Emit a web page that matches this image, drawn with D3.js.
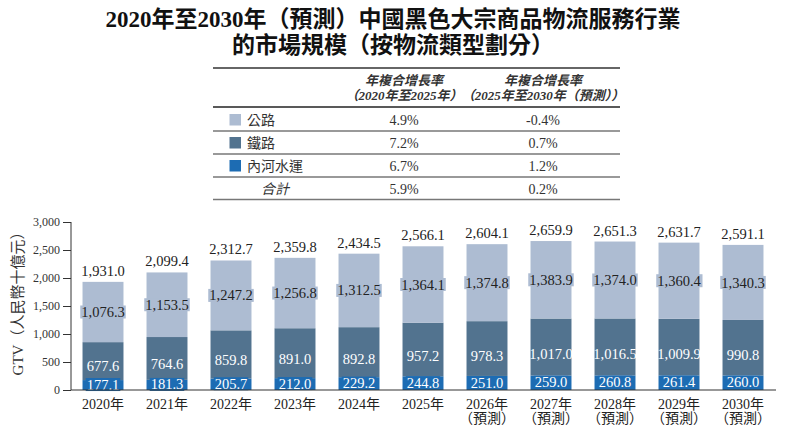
<!DOCTYPE html>
<html><head><meta charset="utf-8">
<script src="https://cdn.jsdelivr.net/npm/d3@7"></script>
<style>
html,body{margin:0;padding:0;background:#fff;}
svg{display:block;}
</style></head>
<body>
<svg id="chart" width="786" height="429"></svg>
<script>
// ---- data ----
const years = ["2020年","2021年","2022年","2023年","2024年","2025年","2026年","2027年","2028年","2029年","2030年"];
const forecast = [false,false,false,false,false,false,true,true,true,true,true];
const water = [177.1,181.3,205.7,212.0,229.2,244.8,251.0,259.0,260.8,261.4,260.0];
const rail = [677.6,764.6,859.8,891.0,892.8,957.2,978.3,1017.0,1016.5,1009.9,990.8];
const road = [1076.3,1153.5,1247.2,1256.8,1312.5,1364.1,1374.8,1383.9,1374.0,1360.4,1340.3];
const totals = [1931.0,2099.4,2312.7,2359.8,2434.5,2566.1,2604.1,2659.9,2651.3,2631.7,2591.1];
const yTicks = [0,500,1000,1500,2000,2500,3000];
const seriesNames = ["公路","鐵路","內河水運"];
const cagr1 = ["4.9%","7.2%","6.7%"];
const cagr2 = ["-0.4%","0.7%","1.2%"];
const totalName = "合計";
const totalCagr = ["5.9%","0.2%"];
const colHead1 = ["年複合增長率","（2020年至2025年）"];
const colHead2 = ["年複合增長率","（2025年至2030年（預測））"];
const titleLines = ["2020年至2030年（預測）中國黑色大宗商品物流服務行業","的市場規模（按物流類型劃分）"];
const yLabel = "GTV（人民幣十億元）";

const colors = {road:"#adbcd2", rail:"#52738f", water:"#1d6cb3"};
const serif = "'Liberation Serif','Noto Sans CJK TC',serif";

const svg = d3.select("#chart");

// ---- title ----
svg.append("g").selectAll("text").data(titleLines).join("text")
  .attr("x", 393).attr("y", (d,i)=> 27 + i*26)
  .attr("text-anchor","middle")
  .style("font-family", serif).style("font-weight","bold").style("font-size","23px")
  .attr("fill","#111").text(d=>d);

// ---- table ----
const tbl = svg.append("g");
const tx0 = 213, tx1 = 620;
const c1 = 404, c2 = 543;
tbl.append("line").attr("x1",tx0).attr("x2",tx1).attr("y1",68).attr("y2",68).attr("stroke","#333").attr("stroke-width",1.3);
tbl.append("line").attr("x1",tx0).attr("x2",tx1).attr("y1",107).attr("y2",107).attr("stroke","#222").attr("stroke-width",1.5);
[131,154,177].forEach(y=>tbl.append("line").attr("x1",tx0).attr("x2",tx1).attr("y1",y).attr("y2",y).attr("stroke","#777").attr("stroke-width",1.3));
tbl.append("line").attr("x1",tx0).attr("x2",tx1).attr("y1",199.5).attr("y2",199.5).attr("stroke","#777").attr("stroke-width",1.3);

[[colHead1,c1],[colHead2,c2]].forEach(([h,cx])=>{
  h.forEach((t,i)=>{
    tbl.append("text").attr("x",cx).attr("y",85+i*14.5).attr("text-anchor","middle")
      .style("font-family",serif).style("font-style","italic").style("font-weight","bold").style("font-size","13px")
      .attr("fill","#333").text(t);
  });
});

const rowY = [120,143,166];
const serCols = [colors.road, colors.rail, colors.water];
seriesNames.forEach((n,i)=>{
  tbl.append("rect").attr("x",229.5).attr("y",rowY[i]-6).attr("width",11.5).attr("height",11.5).attr("fill",serCols[i]);
  tbl.append("text").attr("x",247).attr("y",rowY[i]+5).style("font-family",serif).style("font-size","14px").attr("fill","#333").text(n);
  tbl.append("text").attr("x",c1).attr("y",rowY[i]+5).attr("text-anchor","middle").style("font-family",serif).style("font-size","14px").attr("fill","#333").text(cagr1[i]);
  tbl.append("text").attr("x",c2).attr("y",rowY[i]+5).attr("text-anchor","middle").style("font-family",serif).style("font-size","14px").attr("fill","#333").text(cagr2[i]);
});
tbl.append("text").attr("x",275).attr("y",194).attr("text-anchor","middle").style("font-family",serif).style("font-style","italic").style("font-size","14px").attr("fill","#333").text(totalName);
tbl.append("text").attr("x",c1).attr("y",194).attr("text-anchor","middle").style("font-family",serif).style("font-size","14px").attr("fill","#333").text(totalCagr[0]);
tbl.append("text").attr("x",c2).attr("y",194).attr("text-anchor","middle").style("font-family",serif).style("font-size","14px").attr("fill","#333").text(totalCagr[1]);

// ---- chart ----
const x = d3.scaleBand().domain(years).range([71, 775]).paddingInner(0.36).paddingOuter(0.18);
const y = d3.scaleLinear().domain([0,3000]).range([390,222]);
const fmt = d3.format(",.1f");

// y axis
const yAxis = d3.axisLeft(y).tickValues(yTicks).tickFormat(d3.format(",")).tickSize(8).tickPadding(3);
const ya = svg.append("g").attr("transform","translate(71,0)").call(yAxis);
ya.select(".domain").attr("stroke","#333").attr("d","M0,222V390");
ya.selectAll(".tick line").attr("stroke","#333");
ya.selectAll(".tick text").style("font-family",serif).style("font-size","12px").attr("fill","#333");

svg.append("text").attr("transform","translate(23,300) rotate(-90)").attr("text-anchor","middle")
  .style("font-family",serif).style("font-size","15px").attr("fill","#333").text(yLabel);

const data = years.map((yr,i)=>({yr, f:forecast[i], w:water[i], r:rail[i], rd:road[i], t:totals[i]}));
const bars = svg.append("g");
const bw = x.bandwidth();
data.forEach(d=>{
  const bx = x(d.yr);
  bars.append("rect").attr("x",bx).attr("width",bw).attr("y",y(d.w)).attr("height",y(0)-y(d.w)).attr("fill",colors.water);
  bars.append("rect").attr("x",bx).attr("width",bw).attr("y",y(d.w+d.r)).attr("height",y(d.w)-y(d.w+d.r)).attr("fill",colors.rail);
  bars.append("rect").attr("x",bx).attr("width",bw).attr("y",y(d.w+d.r+d.rd)).attr("height",y(d.w+d.r)-y(d.w+d.r+d.rd)).attr("fill",colors.road);
});

const lab = svg.append("g");
function boxLabel(cx, cy, txt, fill, bg){
  const g = lab.append("g");
  const r = g.append("rect").attr("fill",bg);
  const t = g.append("text").attr("x",cx).attr("y",cy).attr("text-anchor","middle").attr("dy","0.35em")
    .style("font-family",serif).style("font-size","14.5px").attr("fill",fill).text(txt);
  if(bg){
    const b = t.node().getBBox();
    r.attr("x",b.x-1).attr("y",cy-6.5).attr("width",b.width+2).attr("height",13);
  } else r.remove();
}
data.forEach(d=>{
  const cx = x(d.yr)+bw/2;
  boxLabel(cx, (y(d.w+d.r)+y(d.w+d.r+d.rd))/2, fmt(d.rd), "#222", colors.road);
  boxLabel(cx, (y(0)+y(d.w+d.r))/2, fmt(d.r), "#fff", null);
  boxLabel(cx, (y(0)+y(d.w))/2 - 0.5, fmt(d.w), "#fff", colors.water);
  lab.append("text").attr("x",cx).attr("y",y(d.t)-6).attr("text-anchor","middle")
    .style("font-family",serif).style("font-size","14.5px").attr("fill","#222").text(fmt(d.t));
});

// baseline
svg.append("line").attr("x1",71).attr("x2",776).attr("y1",390).attr("y2",390).attr("stroke","#333").attr("stroke-width",1.2);

// x labels
const xl = svg.append("g");
data.forEach(d=>{
  const cx = x(d.yr)+bw/2;
  xl.append("text").attr("x",cx).attr("y",409).attr("text-anchor","middle")
    .style("font-family",serif).style("font-size","14px").attr("fill","#222").text(d.yr);
  if(d.f) xl.append("text").attr("x",cx).attr("y",423).attr("text-anchor","middle")
    .style("font-family",serif).style("font-size","14px").attr("fill","#222").text("（預測）");
});
</script>
</body></html>
